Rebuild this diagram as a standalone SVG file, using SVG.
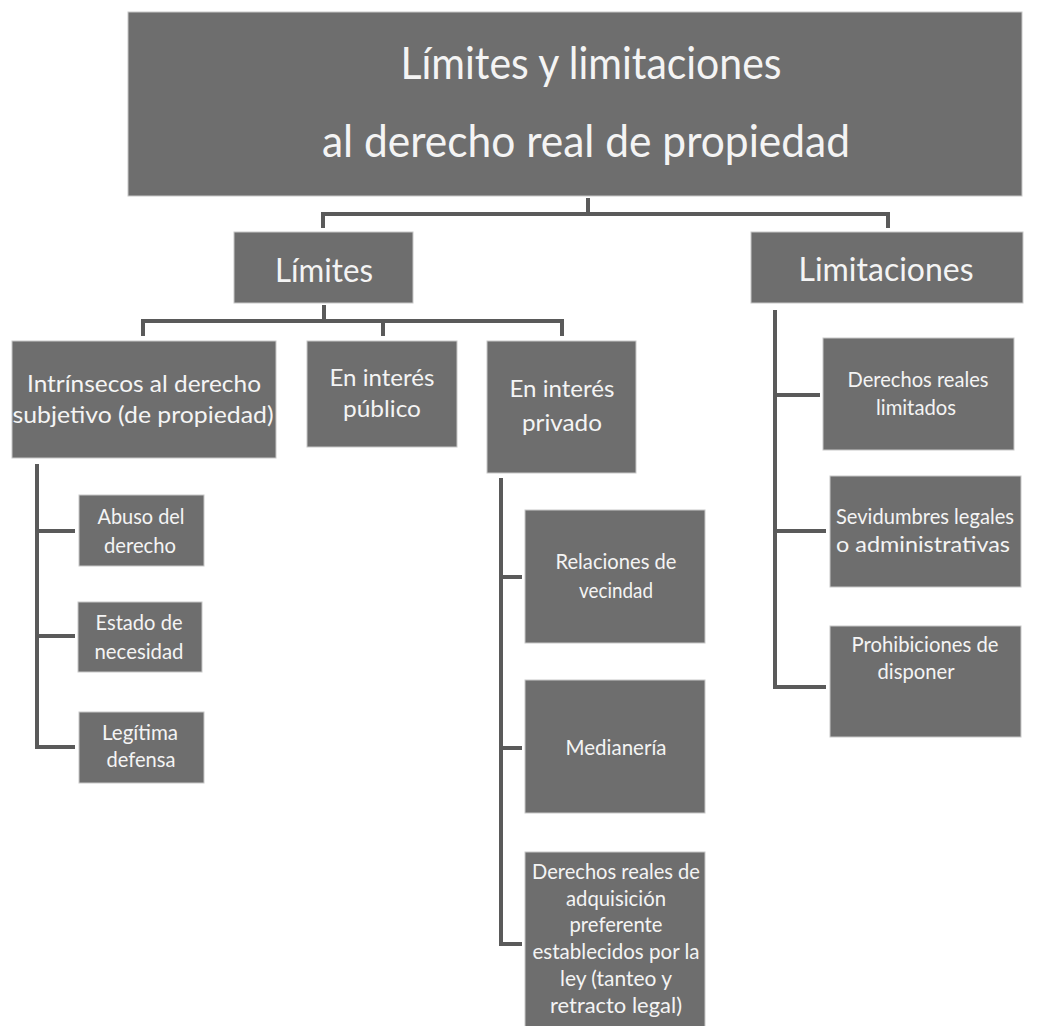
<svg xmlns="http://www.w3.org/2000/svg" width="1037" height="1026" viewBox="0 0 1037 1026">
<style>
.box{fill:#6e6e6e;stroke:#c8c8c8;stroke-width:1}
.t{fill:#f4f4f4;font-family:Lato,"Open Sans","Liberation Sans",sans-serif;text-anchor:middle}
.s22{font-size:22px}.s24{font-size:24px}.s32{font-size:32px}.s44{font-size:44px}
.c{fill:none;stroke:#5a5a5a;stroke-width:4;stroke-linejoin:miter}
</style>
<rect width="1037" height="1026" fill="#ffffff"/>
<g id="connectors">
<path class="c" d="M588 198V214M323 228V214H888V228"/>
<path class="c" d="M324 305V321M143 336V321H562V336M383 321V336"/>
<path class="c" d="M37 464V747H75M37 531H75M37 636H75"/>
<path class="c" d="M501 478V944H522M501 577H522M501 748H522"/>
<path class="c" d="M775 310V687H826M775 395H820M775 531H826"/>
</g>
<g id="title"><rect class="box" x="128" y="12" width="894" height="184"/>
<text class="t s44" x="591" y="79" textLength="381" lengthAdjust="spacingAndGlyphs">Límites y limitaciones</text>
<text class="t s44" x="586" y="157" textLength="528" lengthAdjust="spacingAndGlyphs">al derecho real de propiedad</text></g>
<g id="limites"><rect class="box" x="234" y="232" width="179" height="71"/>
<text class="t s32" x="324" y="282" textLength="98" lengthAdjust="spacingAndGlyphs">Límites</text></g>
<g id="limitaciones"><rect class="box" x="751" y="232" width="272" height="71"/>
<text class="t s32" x="886" y="281" textLength="175" lengthAdjust="spacingAndGlyphs">Limitaciones</text></g>
<g id="intrinsecos"><rect class="box" x="12" y="341" width="264" height="117"/>
<text class="t s24" x="144" y="392" textLength="234" lengthAdjust="spacingAndGlyphs">Intrínsecos al derecho</text>
<text class="t s24" x="143" y="423" textLength="261" lengthAdjust="spacingAndGlyphs">subjetivo (de propiedad)</text></g>
<g id="publico"><rect class="box" x="307" y="341" width="150" height="106"/>
<text class="t s24" x="382" y="386" textLength="105" lengthAdjust="spacingAndGlyphs">En interés</text>
<text class="t s24" x="382" y="417" textLength="78" lengthAdjust="spacingAndGlyphs">público</text></g>
<g id="privado"><rect class="box" x="487" y="341" width="149" height="132"/>
<text class="t s24" x="562" y="397" textLength="105" lengthAdjust="spacingAndGlyphs">En interés</text>
<text class="t s24" x="562" y="431" textLength="80" lengthAdjust="spacingAndGlyphs">privado</text></g>
<g id="abuso"><rect class="box" x="79" y="495" width="125" height="71"/>
<text class="t s22" x="141" y="524" textLength="87" lengthAdjust="spacingAndGlyphs">Abuso del</text>
<text class="t s22" x="140" y="553" textLength="72" lengthAdjust="spacingAndGlyphs">derecho</text></g>
<g id="necesidad"><rect class="box" x="78" y="602" width="124" height="70"/>
<text class="t s22" x="139" y="630" textLength="87" lengthAdjust="spacingAndGlyphs">Estado de</text>
<text class="t s22" x="139" y="659" textLength="89" lengthAdjust="spacingAndGlyphs">necesidad</text></g>
<g id="legitima"><rect class="box" x="79" y="712" width="125" height="71"/>
<text class="t s22" x="140" y="740" textLength="76" lengthAdjust="spacingAndGlyphs">Legítima</text>
<text class="t s22" x="141" y="767" textLength="69" lengthAdjust="spacingAndGlyphs">defensa</text></g>
<g id="vecindad"><rect class="box" x="525" y="510" width="180" height="133"/>
<text class="t s22" x="616" y="569" textLength="121" lengthAdjust="spacingAndGlyphs">Relaciones de</text>
<text class="t s22" x="616" y="598" textLength="74" lengthAdjust="spacingAndGlyphs">vecindad</text></g>
<g id="medianeria"><rect class="box" x="525" y="680" width="180" height="133"/>
<text class="t s22" x="616" y="755" textLength="101" lengthAdjust="spacingAndGlyphs">Medianería</text></g>
<g id="adquisicion"><rect class="box" x="525" y="852" width="180" height="180"/>
<text class="t s22" x="616" y="879" textLength="168" lengthAdjust="spacingAndGlyphs">Derechos reales de</text>
<text class="t s22" x="616" y="906" textLength="100" lengthAdjust="spacingAndGlyphs">adquisición</text>
<text class="t s22" x="616" y="932" textLength="93" lengthAdjust="spacingAndGlyphs">preferente</text>
<text class="t s22" x="616" y="959" textLength="167" lengthAdjust="spacingAndGlyphs">establecidos por la</text>
<text class="t s22" x="616" y="986" textLength="112" lengthAdjust="spacingAndGlyphs">ley (tanteo y</text>
<text class="t s22" x="616" y="1013" textLength="132" lengthAdjust="spacingAndGlyphs">retracto legal)</text></g>
<g id="derechos-limitados"><rect class="box" x="823" y="338" width="191" height="112"/>
<text class="t s22" x="918" y="387" textLength="141" lengthAdjust="spacingAndGlyphs">Derechos reales</text>
<text class="t s22" x="916" y="415" textLength="80" lengthAdjust="spacingAndGlyphs">limitados</text></g>
<g id="servidumbres"><rect class="box" x="830" y="476" width="191" height="111"/>
<text class="t s22" x="925" y="524" textLength="178" lengthAdjust="spacingAndGlyphs">Sevidumbres legales</text>
<text class="t s22" x="923" y="552" textLength="174" lengthAdjust="spacingAndGlyphs">o administrativas</text></g>
<g id="prohibiciones"><rect class="box" x="830" y="626" width="191" height="111"/>
<text class="t s22" x="925" y="652" textLength="147" lengthAdjust="spacingAndGlyphs">Prohibiciones de</text>
<text class="t s22" x="916" y="679" textLength="77" lengthAdjust="spacingAndGlyphs">disponer</text></g>
</svg>
